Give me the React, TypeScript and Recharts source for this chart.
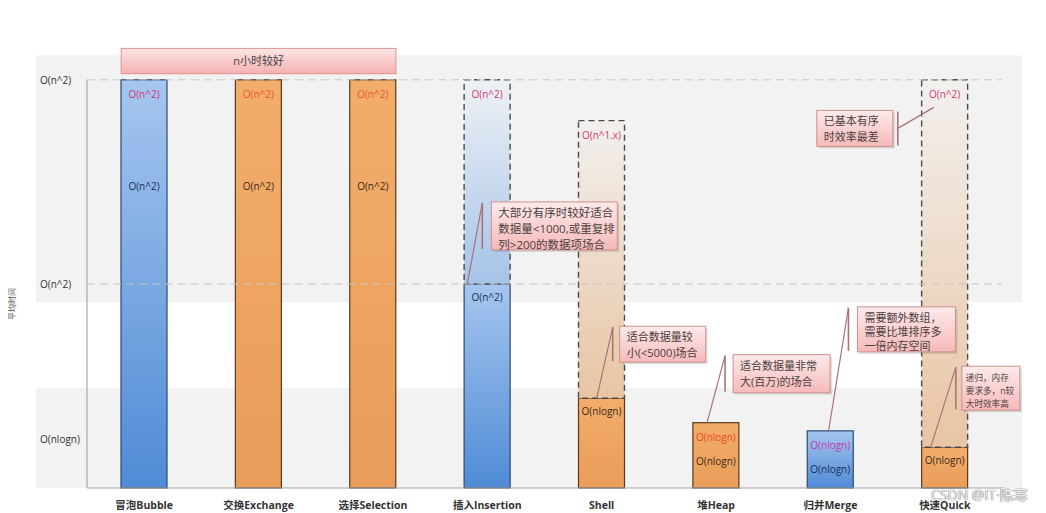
import { BarChart, Bar, XAxis, YAxis, ReferenceArea, ReferenceLine, ReferenceDot } from 'recharts'

// categories and complexity levels (0 = baseline, 100 = O(n^2) level)
const categories = ['冒泡Bubble', '交换Exchange', '选择Selection', '插入Insertion', 'Shell', '堆Heap', '归并Merge', '快速Quick']
const avgValues = [100, 100, 100, 50, 22, 16, 14, 10]
const worstValues = [100, 100, 100, 100, 90, 16, 14, 100]
const worstLabels = ['O(n^2)', 'O(n^2)', 'O(n^2)', 'O(n^2)', 'O(n^1.x)', 'O(nlogn)', 'O(nlogn)', 'O(n^2)']
const avgLabels = ['O(n^2)', 'O(n^2)', 'O(n^2)', 'O(n^2)', 'O(nlogn)', 'O(nlogn)', 'O(nlogn)', 'O(nlogn)']
const yTicks = [12, 50, 100]
const yTickLabels = ['O(nlogn)', 'O(n^2)', 'O(n^2)']

const calloutTexts = [
  ['大部分有序时较好适合', '数据量<1000,或重复排', '列>200的数据项场合'],
  ['适合数据量较', '小(<5000)场合'],
  ['适合数据量非常', '大(百万)的场合'],
  ['需要额外数组，', '需要比堆排序多', '一倍内存空间'],
  ['递归，内存', '要求多，n较', '大时效率高'],
  ['已基本有序', '时效率最差'],
]
const calloutTargets = [categories[3], categories[4], categories[5], categories[6], categories[7], categories[7]]
const calloutValues = [50, 22, 16, 14, 10, 93]

// styling
const barKinds = ['blue', 'orange', 'orange', 'blue', 'orange', 'orange', 'blue', 'orange']
const worstColors = ['#d23a6e', '#ec5a2a', '#ec5a2a', '#d23a6e', '#d23a6e', '#ec4a1a', '#c43aa8', '#d23a6e']
const ghostFills = ['', '', '', 'ghostBlue', 'ghostTan', '', '', 'ghostTan']

const calloutLayout = [
  { ax: -20, ay: 0, bx: 4, by: -82, bw: 126, bh: 48, gap: 9, side: 'left', fs: 11.5, lh: 16, tx: 7 },
  { ax: -5, ay: 0, bx: 18, by: -72, bw: 86, bh: 36, gap: 7, side: 'left', fs: 11, lh: 16, tx: 7 },
  { ax: -9, ay: 0, bx: 17, by: -68, bw: 97, bh: 38, gap: 8, side: 'left', fs: 11, lh: 16, tx: 7 },
  { ax: -2, ay: 1, bx: 27, by: -124, bw: 98, bh: 45, gap: 9, side: 'left', fs: 11, lh: 14, tx: 7 },
  { ax: -14, ay: 0, bx: 17, by: -81, bw: 58, bh: 44, gap: 6, side: 'left', fs: 8.6, lh: 13, tx: 4 },
  { ax: -11, ay: -1, bx: -128, by: 2, bw: 76, bh: 36, gap: 5, side: 'right', fs: 11, lh: 16, tx: 7 },
]

const FONT = "'Open Sans', 'Noto Sans CJK SC', sans-serif"
const BAR_SIZE = 46

const data = categories.map((name, i) => ({
  name,
  avg: avgValues[i],
  extra: worstValues[i] - avgValues[i],
  worstLabel: worstLabels[i],
  avgLabel: avgLabels[i],
  i,
}))

function AvgBar(props: any) {
  const { x, y, width, height, payload } = props
  if (!height || height <= 0) return null
  const i = payload.i
  const blue = barKinds[i] === 'blue'
  const cx = x + width / 2
  const solo = payload.extra === 0
  const avgY = solo ? y + Math.max(38, height * 0.26) + 4 : y + 17
  return (
    <g>
      <rect x={x} y={y} width={width} height={height} fill={`url(#${barKinds[i]})`}
        stroke={blue ? '#2c4a72' : '#5b3a1a'} strokeWidth={1.2} />
      {solo && (
        <text x={cx} y={y + 18} textAnchor="middle" fontSize={10} fontFamily={FONT} fill={worstColors[i]}>
          {payload.worstLabel}
        </text>
      )}
      <text x={cx} y={avgY} textAnchor="middle" fontSize={10} fontFamily={FONT} fill={blue ? '#1c2c55' : '#3a2a1a'}>
        {payload.avgLabel}
      </text>
    </g>
  )
}

function ExtraBar(props: any) {
  const { x, y, width, height, payload } = props
  if (!height || height <= 0) return null
  const i = payload.i
  return (
    <g>
      <rect x={x} y={y} width={width} height={height} fill={`url(#${ghostFills[i]})`}
        stroke="#4a4a4a" strokeWidth={1.4} strokeDasharray="6 4" />
      <text x={x + width / 2} y={y + 18} textAnchor="middle" fontSize={10} fontFamily={FONT} fill={worstColors[i]}>
        {payload.worstLabel}
      </text>
    </g>
  )
}

function Callout({ cx, cy, k }: { cx: number; cy: number; k: number }) {
  const lay = calloutLayout[k]
  const lines = calloutTexts[k]
  const ax = cx + lay.ax
  const ay = cy + lay.ay
  const bx = cx + lay.bx
  const by = cy + lay.by
  const accentX = lay.side === 'left' ? bx - lay.gap : bx + lay.bw + lay.gap
  const leadY = lay.side === 'left' ? by + 1 : by + lay.bh / 2
  return (
    <g>
      <line x1={ax} y1={ay} x2={accentX} y2={leadY} stroke="#a87478" strokeWidth={1.2} />
      <line x1={accentX} y1={by + 1} x2={accentX} y2={by + lay.bh - 1} stroke="#a87478" strokeWidth={1.6} />
      <rect x={bx + 2} y={by + 2} width={lay.bw} height={lay.bh} fill="rgba(0,0,0,0.12)" />
      <rect x={bx} y={by} width={lay.bw} height={lay.bh} fill="url(#calloutFill)" stroke="#cf8f8f" strokeWidth={1} />
      {lines.map((t, j) => (
        <text key={j} x={bx + lay.tx} y={by + 15 + j * lay.lh} fontSize={lay.fs} fontFamily={FONT} fill="#4a4040">
          {t}
        </text>
      ))}
    </g>
  )
}

const XTick = (props: any) => {
  const { x, y, payload } = props
  return (
    <text x={x} y={y + 21} textAnchor="middle" fontSize={10.5} fontWeight="bold" fontFamily={FONT} fill="#333">
      {payload.value}
    </text>
  )
}

const YTick = (props: any) => {
  const { x, y, payload } = props
  const idx = yTicks.indexOf(payload.value)
  return (
    <text x={x - 47} y={y + 4} textAnchor="start" fontSize={10} fontFamily={FONT} fill="#333">
      {yTickLabels[idx]}
    </text>
  )
}

export default function App() {
  return (
    <div style={{ position: 'absolute', left: 0, top: 0, width: 1046, height: 513, background: '#fff' }}>
      <BarChart width={1046} height={513} data={data} margin={{ top: 39, right: 44, bottom: 5, left: 7 }}>
        <defs>
          <linearGradient id="blue" x1="0" y1="0" x2="0" y2="1">
            <stop offset="0%" stopColor="#a6c6ef" />
            <stop offset="100%" stopColor="#4f8bd6" />
          </linearGradient>
          <linearGradient id="orange" x1="0" y1="0" x2="0" y2="1">
            <stop offset="0%" stopColor="#f3ad6a" />
            <stop offset="100%" stopColor="#e99d5a" />
          </linearGradient>
          <linearGradient id="ghostBlue" x1="0" y1="0" x2="0" y2="1">
            <stop offset="0%" stopColor="#eef1f5" />
            <stop offset="100%" stopColor="#a6c3e8" />
          </linearGradient>
          <linearGradient id="ghostTan" x1="0" y1="0" x2="0" y2="1">
            <stop offset="0%" stopColor="#f2f0ee" />
            <stop offset="100%" stopColor="#e8c5a3" />
          </linearGradient>
          <linearGradient id="calloutFill" x1="0" y1="0" x2="0" y2="1">
            <stop offset="0%" stopColor="#fdeaea" />
            <stop offset="100%" stopColor="#f6b9b9" />
          </linearGradient>
          <linearGradient id="topBox" x1="0" y1="0" x2="0" y2="1">
            <stop offset="0%" stopColor="#fde6e6" />
            <stop offset="100%" stopColor="#f5b0b0" />
          </linearGradient>
        </defs>

        {/* background bands */}
        <ReferenceArea y1={45.5} y2={106} ifOverflow="visible"
          shape={(p: any) => <rect x={p.x - 51} y={p.y} width={p.width + 71} height={p.height} fill="#f2f2f2" />} />
        <ReferenceArea y1={0} y2={24.5} ifOverflow="visible"
          shape={(p: any) => <rect x={p.x - 51} y={p.y} width={p.width + 71} height={p.height} fill="#f2f2f2" />} />
        {/* left axis line */}
        <ReferenceArea y1={0} y2={100} ifOverflow="visible"
          shape={(p: any) => <line x1={p.x} y1={p.y} x2={p.x} y2={p.y + p.height} stroke="#a8a8a8" strokeWidth={1.2} />} />

        <ReferenceLine y={100} stroke="#c6c6c6" strokeDasharray="8 5" />
        <ReferenceLine y={50} stroke="#c6c6c6" strokeDasharray="8 5" />

        {/* n小时较好 box */}
        <ReferenceArea x1={categories[0]} x2={categories[2]} y1={101.5} y2={107.7} ifOverflow="visible"
          shape={(p: any) => {
            const inset = (p.width / 3 - BAR_SIZE) / 2
            return (
              <g>
                <rect x={p.x + inset} y={p.y} width={p.width - 2 * inset} height={p.height}
                  fill="url(#topBox)" stroke="#e09090" strokeWidth={1} />
                <text x={p.x + p.width / 2} y={p.y + p.height / 2 + 4} textAnchor="middle" fontSize={11}
                  fontFamily={FONT} fill="#444">n小时较好</text>
              </g>
            )
          }} />

        <XAxis dataKey="name" tick={<XTick />} tickLine={false} tickSize={0} tickMargin={0} height={20}
          axisLine={{ stroke: '#a8a8a8', strokeWidth: 1.2 }} interval={0} />
        <YAxis type="number" domain={[0, 110]} ticks={yTicks} tick={<YTick />} tickLine={false} tickSize={0}
          tickMargin={0} axisLine={false} width={80}
          label={{
            content: (p: any) => {
              const vb = p.viewBox
              const lx = vb.x + 8
              const ly = vb.y + vb.height * 0.59
              return (
                <text x={lx} y={ly} transform={`rotate(-90 ${lx} ${ly})`} textAnchor="middle" fontSize={8}
                  fontFamily={FONT} fill="#555">平均时间</text>
              )
            },
          }} />

        <Bar dataKey="avg" stackId="s" barSize={BAR_SIZE} isAnimationActive={false} shape={<AvgBar />} />
        <Bar dataKey="extra" stackId="s" barSize={BAR_SIZE} isAnimationActive={false} shape={<ExtraBar />} />

        {calloutTargets.map((c, k) => (
          <ReferenceDot key={k} x={c} y={calloutValues[k]} r={0} ifOverflow="visible"
            shape={(p: any) => <Callout cx={p.cx} cy={p.cy} k={k} />} />
        ))}
      </BarChart>
      <div style={{
        position: 'absolute', left: 931, top: 486, fontSize: 14, lineHeight: '18px', fontFamily: FONT,
        color: '#f2f2f2', textShadow: '0 0 1px #6a6a6a, 0 0 1px #6a6a6a',
      }}>CSDN @IT·陈寒</div>
    </div>
  )
}
